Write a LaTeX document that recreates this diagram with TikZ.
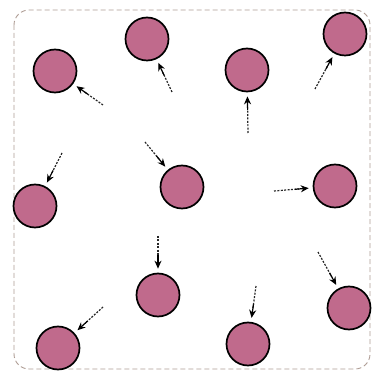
\documentclass[tikz,border=0pt]{standalone}
\usepackage{xcolor}
\usepackage{tikz}
\usetikzlibrary{arrows.meta,calc}
\definecolor{dotpink}{HTML}{C06A8C}
\definecolor{framegray}{HTML}{AE9C94}

\begin{document}
\begin{tikzpicture}[x=1pt, y=-1pt,
  dot/.style={circle, draw=black, line width=1.7pt, fill=dotpink, minimum size=43pt, inner sep=0pt},
  dashline/.style={line width=1.2pt, dash pattern=on 2pt off 1.4pt, black!85},
  arr/.style={-{Stealth[length=8pt, width=7pt]}, line width=1.2pt, black}]
\useasboundingbox (0,0) rectangle (375,371);
\draw[framegray, line width=0.9pt, dash pattern=on 5pt off 3pt, rounded corners=15pt]
  (14,10) rectangle (370,369);
% particles
\node[dot] (c1) at (55,71) {};
\node[dot] (c2) at (147,39) {};
\node[dot] (c3) at (247,70) {};
\node[dot] (c4) at (345,34) {};
\node[dot] (c5) at (35,206) {};
\node[dot] (c6) at (182,187) {};
\node[dot] (c7) at (335,186) {};
\node[dot] (c8) at (158,295) {};
\node[dot] (c9) at (349,308) {};
\node[dot] (c10) at (58,348) {};
\node[dot] (c11) at (248,344) {};
% arrow tails
\coordinate (t1) at (103,105);
\coordinate (t2) at (172,92);
\coordinate (t3) at (248,133);
\coordinate (t4) at (315,89);
\coordinate (t5) at (62,153);
\coordinate (t6) at (145,142);
\coordinate (t7) at (274,191);
\coordinate (t8) at (158,236);
\coordinate (t9) at (318,252);
\coordinate (t10) at (103,307);
\coordinate (t11) at (256,286);
\foreach \t/\c in {t1/c1,t2/c2,t3/c3,t4/c4,t5/c5,t6/c6,t7/c7,t8/c8,t9/c9,t10/c10,t11/c11}{
  \draw[dashline, shorten >=14pt] (\t) -- (\c);
  \draw[arr, shorten >=4pt] ($(\c)!40pt!(\t)$) -- (\c);
}
\end{tikzpicture}
\end{document}
